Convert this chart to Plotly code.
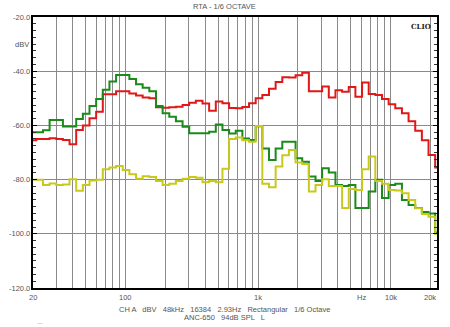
import plotly.graph_objects as go
import math

# 1/6-octave band centre frequencies (Hz)
band_hz = [20, 22.45, 25.2, 28.28, 31.75, 35.64, 40, 44.9, 50.4, 56.57,
           63.5, 71.27, 80, 89.8, 100.8, 113.1, 127, 142.5, 160, 179.6,
           201.6, 226.3, 254, 285.1, 320, 359.2, 403.2, 452.5, 508, 570.2,
           640, 718.4, 806.3, 905.1, 1016, 1140, 1280, 1437, 1613, 1810,
           2032, 2281, 2560, 2874, 3225, 3620, 4064, 4561, 5120, 5747,
           6451, 7241, 8128, 9123, 10240, 11494, 12902, 14482, 16255, 18246,
           20480, 22988]

red_db = [-65.5, -65.0, -65.0, -64.7, -65.0, -65.4, -67.0, -61.7, -60.0, -57.4,
          -55.0, -48.5, -48.5, -47.4, -47.4, -48.2, -49.0, -49.7, -50.0, -53.3,
          -53.5, -53.3, -53.1, -52.5, -51.6, -50.9, -51.9, -54.6, -51.2, -51.8,
          -53.6, -53.7, -53.2, -51.8, -50.0, -48.8, -46.5, -44.0, -42.2, -42.3,
          -41.5, -40.6, -47.4, -47.4, -45.6, -49.7, -47.0, -47.6, -45.8, -49.4,
          -44.2, -48.4, -48.8, -50.3, -52.2, -53.7, -55.5, -58.5, -62.0, -65.5,
          -70.9, -75.5]

green_db = [-62.5, -62.5, -61.8, -58.0, -58.0, -60.4, -60.4, -57.6, -55.7, -52.8,
            -50.3, -46.8, -43.8, -41.4, -41.4, -42.9, -44.8, -46.1, -47.4, -52.8,
            -55.5, -56.8, -58.5, -60.5, -62.9, -62.9, -62.9, -62.3, -59.7, -61.7,
            -63.0, -62.0, -64.8, -65.4, -60.3, -68.5, -72.8, -68.5, -66.0, -66.0,
            -72.1, -73.4, -78.9, -80.5, -75.8, -77.4, -82.0, -82.4, -82.0, -90.5,
            -90.5, -84.4, -80.1, -86.8, -82.0, -81.5, -87.5, -89.4, -90.5, -92.0,
            -92.5, -99.5]

yellow_db = [-80.1, -80.1, -82.0, -81.4, -82.0, -81.8, -79.9, -84.1, -82.0, -80.3,
             -80.1, -76.2, -75.5, -75.0, -76.5, -78.0, -79.7, -78.8, -79.0, -80.5,
             -82.0, -81.5, -80.5, -79.7, -79.0, -79.3, -81.0, -80.5, -81.0, -76.0,
             -65.0, -64.5, -65.5, -66.0, -60.2, -81.5, -82.8, -75.2, -71.0, -69.1,
             -73.7, -74.2, -84.4, -82.0, -79.9, -82.4, -82.4, -90.5, -83.5, -83.8,
             -76.2, -71.5, -80.5, -81.5, -83.8, -84.0, -85.0, -87.5, -90.6, -92.7,
             -93.7, -100.0]

x_label_vals = [20, 100, 1000, 10000, 20000]
x_label_text = ["20", "100", "1k", "10k", "20k"]
y_label_vals = [-20, -40, -60, -80, -100, -120]
y_label_text = ["-20.0", "-40.0", "-60.0", "-80.0", "-100.0", "-120.0"]

grid_hz = [m * d for d in (10, 100, 1000) for m in range(2, 10)] + [100, 1000, 10000, 20000]
grid_hz = sorted(set([g for g in grid_hz if 20 <= g <= 20000]))

half = 2 ** (1 / 12)


def steps(vals):
    xs = [c / half for c in band_hz] + [band_hz[-1] * half]
    ys = list(vals) + [vals[-1]]
    return xs, ys


fig = go.Figure()
for vals, col in [(red_db, "#e01818"), (green_db, "#1a8a1a"), (yellow_db, "#c9c91c")]:
    xs, ys = steps(vals)
    fig.add_trace(go.Scatter(x=xs, y=ys, mode="lines", line=dict(color=col, width=2, shape="hv"),
                             showlegend=False, hoverinfo="skip"))

font_small = dict(family="Liberation Sans, Arial", size=7.5, color="#555555")

fig.update_layout(
    width=450, height=327,
    margin=dict(l=33, r=13, t=17, b=39),
    paper_bgcolor="white", plot_bgcolor="white",
    xaxis=dict(type="log", range=[math.log10(20), math.log10(22400)],
               tickvals=grid_hz, ticktext=[""] * len(grid_hz),
               showgrid=True, gridcolor="#8a8a8a", gridwidth=1,
               showline=True, linecolor="black", linewidth=2, mirror=True,
               ticks="", zeroline=False),
    yaxis=dict(range=[-120, -20], tickvals=y_label_vals, ticktext=[""] * len(y_label_vals),
               showgrid=True, gridcolor="#8a8a8a", gridwidth=1,
               showline=True, linecolor="black", linewidth=2, mirror="allticks",
               ticks="inside", ticklen=4, tickcolor="black", tickwidth=1,
               minor=dict(dtick=2.5, ticks="inside", ticklen=3, tickcolor="#333333", tickwidth=1, showgrid=False),
               zeroline=False),
)

ann = []
for v, t in zip(y_label_vals, y_label_text):
    ann.append(dict(x=0, xref="paper", y=v, yref="y", text=t, showarrow=False,
                    xanchor="right", yanchor="middle", xshift=-1, font=font_small))
ann.append(dict(x=0, xref="paper", y=-30, yref="y", text="dBV", showarrow=False,
                xanchor="right", yanchor="middle", xshift=-2, font=font_small))
for v, t in zip(x_label_vals, x_label_text):
    ann.append(dict(x=math.log10(v), xref="x", y=0, yref="paper", text=t, showarrow=False,
                    xanchor="center", yanchor="top", yshift=-3, font=font_small))
ann.append(dict(x=math.log10(6000), xref="x", y=0, yref="paper", text="Hz", showarrow=False,
                xanchor="center", yanchor="top", yshift=-3, font=font_small))
ann.append(dict(x=225, xref="paper", y=1, yref="paper", text="RTA - 1/6 OCTAVE", showarrow=False,
                font=font_small))
ann[-1].update(x=0.475, yanchor="bottom", yshift=4)
ann.append(dict(x=0.99, xref="paper", y=0.99, yref="paper", text="<b>CLIO</b>", showarrow=False,
                xanchor="right", yanchor="top",
                font=dict(family="DejaVu Serif", size=7, color="#222222")))
ann.append(dict(x=0.475, xref="paper", y=0, yref="paper",
                text="CH A   dBV   48kHz   16384   2.93Hz   Rectangular   1/6 Octave",
                showarrow=False, xanchor="center", yanchor="top", yshift=-15, font=font_small))
ann.append(dict(x=0.475, xref="paper", y=0, yref="paper",
                text="ANC-650   94dB SPL   L",
                showarrow=False, xanchor="center", yanchor="top", yshift=-23, font=font_small))
ann.append(dict(x=0.005, xref="paper", y=0, yref="paper", text="—", showarrow=False,
                xanchor="left", yanchor="top", yshift=-29, font=dict(size=6, color="#aaaaaa")))
fig.update_layout(annotations=ann)

fig.write_html("out.html")
